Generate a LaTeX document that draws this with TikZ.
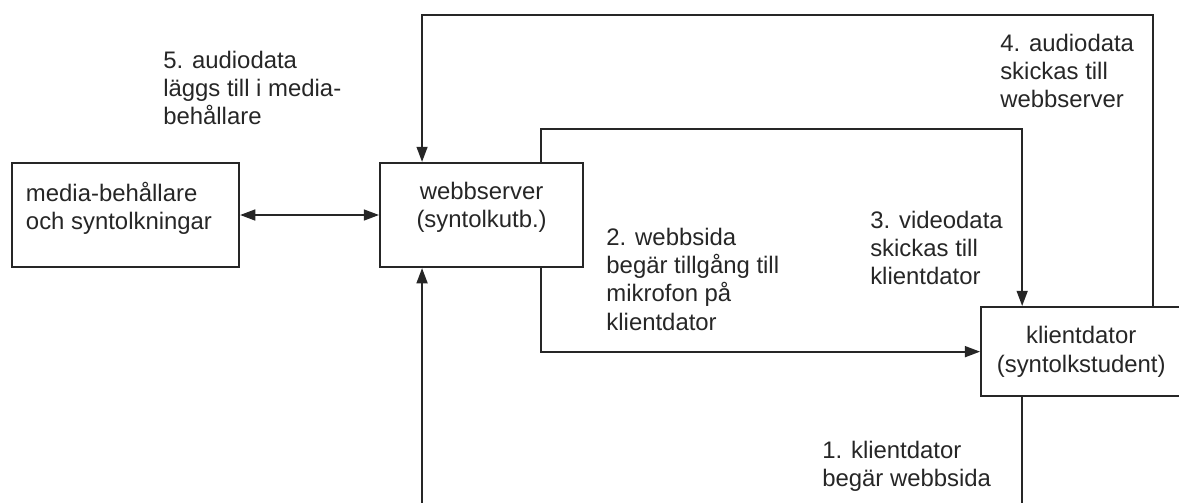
\documentclass[tikz,border=0pt]{standalone}
\usepackage{fontspec}
\setmainfont{Liberation Sans}
\usetikzlibrary{arrows.meta, positioning}

\newcommand{\toptext}[3]{\parbox[c][1.64cm][t]{#1}{#2#3}}

\begin{document}
\begin{tikzpicture}[
    box/.style={rectangle, draw=black!85, text=black!85, line width=1.5pt, inner xsep=0.35cm, inner ysep=0.48cm},
    note/.style={anchor=north west, align=left, inner sep=0pt, text=black!85},
    arrow/.style={-{Triangle[length=0.38cm, width=0.27cm]}, line width=1.5pt, draw=black!85},
    twoway/.style={{Triangle[length=0.38cm, width=0.27cm]}-{Triangle[length=0.38cm, width=0.27cm]}, line width=1.5pt, draw=black!85},
    font=\fontsize{17pt}{20.2pt}\selectfont,
]
\useasboundingbox (0,0) rectangle (29.475,-12.55);
\clip (0,0) rectangle (29.475,-12.55);

% -- Boxes --
\node[box] (media) at (3.1375,-5.375) {\toptext{4.975cm}{\raggedright}{media-behållare\\och syntolkningar}};
\node[box, right=3.475cm of media] (web) {\toptext{4.375cm}{\centering}{webbserver\\(syntolkutb.)}};
\node[box, align=center, minimum width=5cm, minimum height=2.2cm, below right=0.95cm and 9.9cm of web] (klient) {klientdator\\(syntolkstudent)};

% -- Steps --
\node[note] (step1) at (20.55,-11.0125) {1. klientdator\\begär webbsida};
\node[note, below right=1.6375cm and 0.55cm of web.north east] (step2) {2. webbsida\\begär tillgång till\\mikrofon på\\klientdator};
\node[note] (step3) at (21.75,-5.2625) {3. videodata\\skickas till\\klientdator};
\node[note] (step4) at (25.0,-0.8375) {4. audiodata\\skickas till\\webbserver};
\node[note] (step5) at (4.075,-1.2625) {5. audiodata\\läggs till i media-\\behållare};

% -- Arrows --
\draw[twoway] (media) -- (web);
\draw[arrow] ([xshift=1.05cm]klient.south west) -- ++(0,-3) -| ([xshift=1.075cm]web.south west);
\draw[arrow] ([xshift=4.05cm]web.south west) |- (klient.west);
\draw[arrow] ([xshift=4.05cm]web.north west) -- ++(0,0.825) -| ([xshift=1.05cm]klient.north west);
\draw[arrow] ([xshift=-0.725cm]klient.north east) -- ++(0,7.275) -| ([xshift=1.075cm]web.north west);

\end{tikzpicture}
\end{document}
